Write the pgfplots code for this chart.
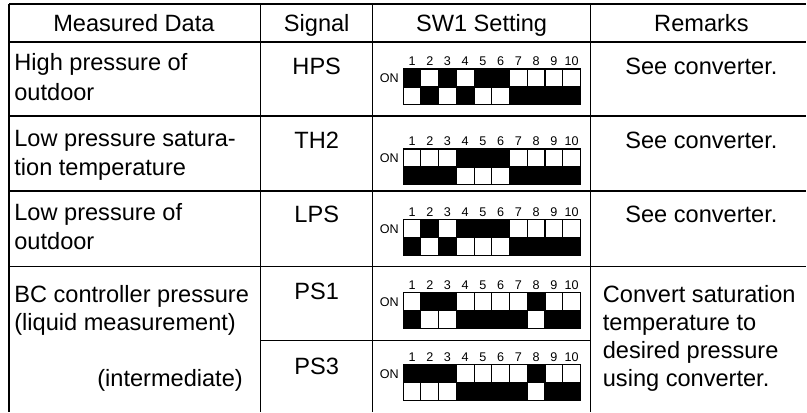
\documentclass[border=0pt]{standalone}
\usepackage{pgfplots}
\pgfplotsset{compat=1.18}
\usepackage{pgfplotstable}
\usepackage{fontspec}
\setmainfont{Liberation Sans}

\newcommand\tf{\fontsize{11.8}{14}\selectfont}
\newcommand\swnf{\fontsize{6.3}{7}\selectfont}
\newcommand\onf{\fontsize{6.3}{7}\selectfont}

% SW1 switch states: top = upper half black (ON), bot = lower half black
\pgfplotstableread{
k top bot
1 1 0
2 0 1
3 1 0
4 0 1
5 1 0
6 1 0
7 0 1
8 0 1
9 0 1
10 0 1
}\swHPS
\pgfplotstableread{
k top bot
1 0 1
2 0 1
3 0 1
4 1 0
5 1 0
6 1 0
7 0 1
8 0 1
9 0 1
10 0 1
}\swTH
\pgfplotstableread{
k top bot
1 0 1
2 1 0
3 0 1
4 1 0
5 1 0
6 1 0
7 0 1
8 0 1
9 0 1
10 0 1
}\swLPS
\pgfplotstableread{
k top bot
1 0 1
2 1 0
3 1 0
4 0 1
5 0 1
6 0 1
7 0 1
8 1 0
9 0 1
10 0 1
}\swPSa
\pgfplotstableread{
k top bot
1 1 0
2 1 0
3 1 0
4 0 1
5 0 1
6 0 1
7 0 1
8 1 0
9 0 1
10 0 1
}\swPSc

\pgfplotsset{swcell/.style={scatter, only marks, point meta=explicit symbolic,
  scatter/classes={0={mark=square*,draw=black,fill=white},1={mark=square*,draw=black,fill=black}},
  mark size=4.45pt, line width=0.55pt}}

\newcommand{\swrow}[2]{%
  \addplot[swcell] table[x expr={403.5+(\thisrow{k}-0.5)*17.75}, y expr={#2+9}, meta=top]{#1};
  \addplot[swcell] table[x expr={403.5+(\thisrow{k}-0.5)*17.75}, y expr={#2+27}, meta=bot]{#1};
  \pgfplotsinvokeforeach{1,...,10}{\node[anchor=base,font=\swnf,inner sep=0pt] at (axis cs:{403.5+(##1-0.5)*17.75},{#2-3.5}) {##1};}
  \node[anchor=base east,font=\onf,inner sep=0pt] at (axis cs:399.5,{#2+14}) {ON};
}

\begin{document}
\begin{tikzpicture}
\begin{axis}[scale only axis, width=403.5pt, height=206pt,
  xmin=0, xmax=807, ymin=0, ymax=412, y dir=reverse,
  hide axis, clip=false]
\path (axis cs:0,0) rectangle (axis cs:807,412);
% grid
\begin{scope}[line width=0.7pt, black]
\draw (axis cs:9,4) -- (axis cs:807,4);
\draw (axis cs:9,42) -- (axis cs:807,42);
\draw (axis cs:9,116) -- (axis cs:807,116);
\draw (axis cs:9,191) -- (axis cs:807,191);
\draw (axis cs:9,267) -- (axis cs:807,267);
\draw (axis cs:261,341) -- (axis cs:591,341);
\draw (axis cs:9,4) -- (axis cs:9,412);
\draw (axis cs:261,4) -- (axis cs:261,412);
\draw (axis cs:373,4) -- (axis cs:373,412);
\draw (axis cs:591,4) -- (axis cs:591,412);
\end{scope}
% header
\node[anchor=base,font=\tf,inner sep=0pt] at (axis cs:134,31.5) {Measured Data};
\node[anchor=base,font=\tf,inner sep=0pt] at (axis cs:317,31.5) {Signal};
\node[anchor=base,font=\tf,inner sep=0pt] at (axis cs:482,31.5) {SW1 Setting};
\node[anchor=base,font=\tf,inner sep=0pt] at (axis cs:702,31.5) {Remarks};
% measured data
\node[anchor=base west,font=\tf,inner sep=0pt] at (axis cs:14,71) {High pressure of};
\node[anchor=base west,font=\tf,inner sep=0pt] at (axis cs:14,100.5) {outdoor};
\node[anchor=base west,font=\tf,inner sep=0pt] at (axis cs:14,146.5) {Low pressure satura-};
\node[anchor=base west,font=\tf,inner sep=0pt] at (axis cs:14,175.5) {tion temperature};
\node[anchor=base west,font=\tf,inner sep=0pt] at (axis cs:14,221) {Low pressure of};
\node[anchor=base west,font=\tf,inner sep=0pt] at (axis cs:14,250) {outdoor};
\node[anchor=base west,font=\tf,inner sep=0pt] at (axis cs:14,303) {BC controller pressure};
\node[anchor=base west,font=\tf,inner sep=0pt] at (axis cs:14,331) {(liquid measurement)};
\node[anchor=base west,font=\tf,inner sep=0pt] at (axis cs:97,387) {(intermediate)};
% signal
\node[anchor=base,font=\tf,inner sep=0pt] at (axis cs:317,75) {HPS};
\node[anchor=base,font=\tf,inner sep=0pt] at (axis cs:317,149) {TH2};
\node[anchor=base,font=\tf,inner sep=0pt] at (axis cs:317,223) {LPS};
\node[anchor=base,font=\tf,inner sep=0pt] at (axis cs:317,299.5) {PS1};
\node[anchor=base,font=\tf,inner sep=0pt] at (axis cs:317,375) {PS3};
% remarks
\node[anchor=base,font=\tf,inner sep=0pt] at (axis cs:702,75) {See converter.};
\node[anchor=base,font=\tf,inner sep=0pt] at (axis cs:702,149) {See converter.};
\node[anchor=base,font=\tf,inner sep=0pt] at (axis cs:702,223) {See converter.};
\node[anchor=base west,font=\tf,inner sep=0pt] at (axis cs:603,303) {Convert saturation};
\node[anchor=base west,font=\tf,inner sep=0pt] at (axis cs:603,331) {temperature to};
\node[anchor=base west,font=\tf,inner sep=0pt] at (axis cs:603,359) {desired pressure};
\node[anchor=base west,font=\tf,inner sep=0pt] at (axis cs:603,387) {using converter.};
% switches
\swrow{\swHPS}{69}
\swrow{\swTH}{149}
\swrow{\swLPS}{220}
\swrow{\swPSa}{293}
\swrow{\swPSc}{365}
\end{axis}
\end{tikzpicture}
\end{document}
